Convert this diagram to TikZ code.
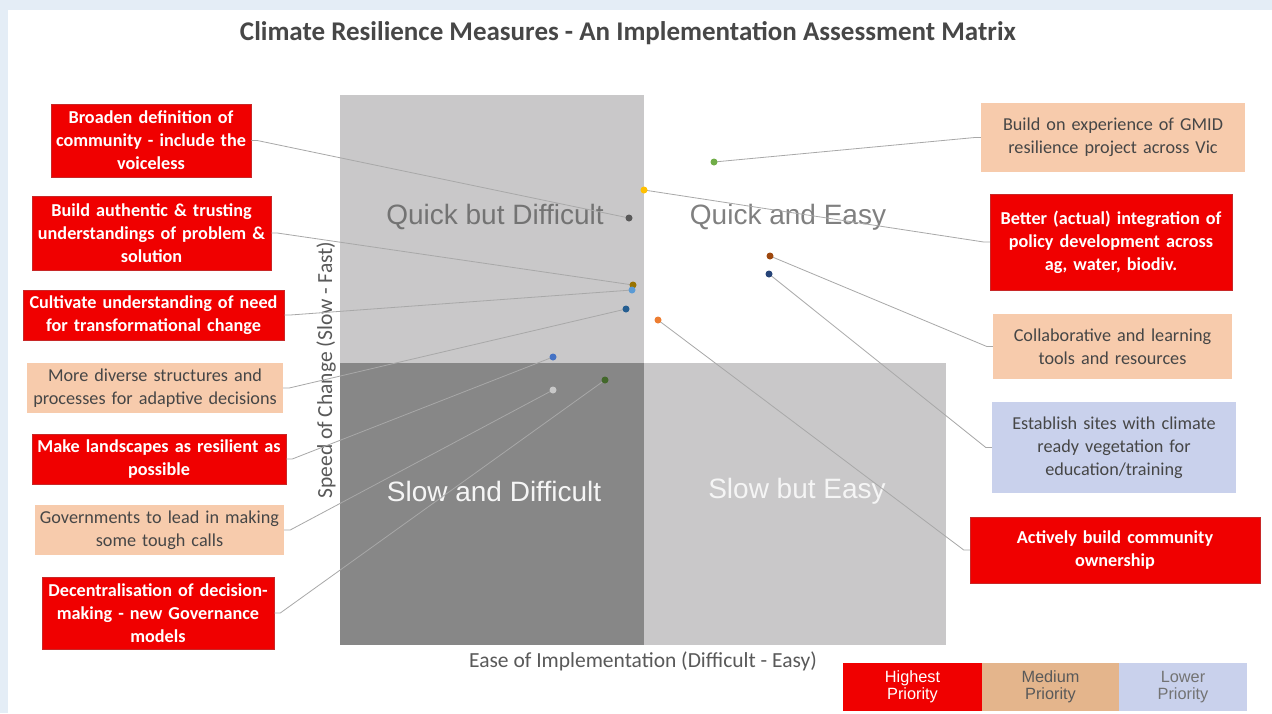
\documentclass[tikz,border=0pt]{standalone}
\usepackage{fontspec}
\setmainfont{Carlito}
\newfontfamily\arialf{Liberation Sans}
\definecolor{hired}{RGB}{240,0,0}
\definecolor{hiredline}{RGB}{200,40,40}
\definecolor{peach}{RGB}{247,203,172}
\definecolor{lowblue}{RGB}{201,209,236}
\definecolor{medleg}{RGB}{228,181,140}
\definecolor{lightq}{RGB}{201,200,201}
\definecolor{darkq}{RGB}{135,135,135}
\definecolor{bgblue}{RGB}{228,237,246}
\definecolor{leader}{RGB}{168,168,168}
\definecolor{txtgray}{RGB}{70,70,70}
\begin{document}
\begin{tikzpicture}[x=1pt,y=-1pt,
  boxbase/.style={rectangle, inner sep=0pt, align=center, font=\fontsize{18.2}{23}\selectfont},
  hibox/.style={boxbase, fill=hired, draw=hiredline, line width=0.5pt, text=white, font=\bfseries\fontsize{18.2}{23}\selectfont},
  medbox/.style={boxbase, fill=peach, text=txtgray},
  lowbox/.style={boxbase, fill=lowblue, text=txtgray},
  dot/.style={circle, inner sep=0pt, minimum size=7pt},
  leadline/.style={draw=leader, line width=0.8pt},
  quadtxt/.style={font=\arialf\fontsize{28}{32}\selectfont},
  legtxt/.style={rectangle, inner sep=0pt, align=center, font=\arialf\fontsize{16.3}{17.5}\selectfont},
  axislbl/.style={font=\fontsize{21.5}{24}\selectfont, text=black!65}
]
\useasboundingbox (0,0) rectangle (1272,713);
% background
\fill[bgblue] (0,0) rectangle (1272,713);
\fill[white] (8,10) rectangle (1272,713);

% title
\node[font=\bfseries\fontsize{27}{30}\selectfont, text=black!72] (title) at (628,33) {Climate Resilience Measures - An Implementation Assessment Matrix};

% quadrants
\fill[lightq] (340,95) rectangle (644,363);
\fill[darkq] (340,363) rectangle (644,645);
\fill[lightq] (644,363) rectangle (946,645);

\node[quadtxt, text=black!55] (qd) at (495,217) {Quick but Difficult};
\node[quadtxt, text=black!50] (qe) at (788,217) {Quick and Easy};
\node[quadtxt, text=black!4] (sd) at (494,491) {Slow and Difficult};
\node[quadtxt, text=black!4] (se) at (797,491) {Slow but Easy};

% axis labels
\node[axislbl, rotate=90] (ylab) at (326,370) {Speed of Change (Slow - Fast)};
\node[axislbl] (xlab) at (643,661) {Ease of Implementation (Difficult - Easy)};

% left boxes
\node[hibox, minimum width=200pt, minimum height=73pt, text width=197pt] (L1) at (151,140.5) {Broaden definition of\\community - include the\\voiceless};
\node[hibox, minimum width=239pt, minimum height=74pt, text width=236pt] (L2) at (151.5,233) {Build authentic \& trusting\\understandings of problem \&\\solution};
\node[hibox, minimum width=261pt, minimum height=50pt, text width=258pt] (L3) at (153.5,315) {Cultivate understanding of need\\for transformational change};
\node[medbox, minimum width=256pt, minimum height=50pt, text width=253pt] (L4) at (155,388) {More diverse structures and\\processes for adaptive decisions};
\node[hibox, minimum width=254pt, minimum height=50pt, text width=251pt] (L5) at (159,459) {Make landscapes as resilient as\\possible};
\node[medbox, minimum width=249pt, minimum height=50pt, text width=246pt] (L6) at (159.5,530) {Governments to lead in making\\some tough calls};
\node[hibox, minimum width=232pt, minimum height=72pt, text width=229pt] (L7) at (158,613) {Decentralisation of decision-\\making - new Governance\\models};

% right boxes
\node[medbox, minimum width=264pt, minimum height=69pt, text width=261pt] (R1) at (1113,137.5) {Build on experience of GMID\\resilience project across Vic};
\node[hibox, minimum width=242pt, minimum height=96pt, text width=239pt] (R2) at (1111,242) {Better (actual) integration of\\policy development across\\ag, water, biodiv.};
\node[medbox, minimum width=239pt, minimum height=65pt, text width=236pt] (R3) at (1112.5,346.5) {Collaborative and learning\\tools and resources};
\node[lowbox, minimum width=244pt, minimum height=91pt, text width=241pt] (R4) at (1114,447.5) {Establish sites with climate\\ready vegetation for\\education/training};
\node[hibox, minimum width=290pt, minimum height=66pt, text width=287pt] (R5) at (1115,550) {Actively build community\\ownership};

% dots (coordinates)
\coordinate (cgreen) at (714,162);
\coordinate (cyellow) at (644,190);
\coordinate (cgray) at (629,218);
\coordinate (colive) at (633,285);
\coordinate (clblue) at (632,290);
\coordinate (cdblue) at (626,309);
\coordinate (corange) at (658,320);
\coordinate (cblue) at (553,357);
\coordinate (clgray) at (553,390);
\coordinate (cdgreen) at (605,380);
\coordinate (cbrown) at (770,256);
\coordinate (cnavy) at (769,274);

% leader lines
\draw[leadline] (L1.east) -- ++(6,0) -- (cgray);
\draw[leadline] (L2.east) -- ++(6,0) -- (colive);
\draw[leadline] (L3.east) -- ++(6,0) -- (clblue);
\draw[leadline] (L4.east) -- ++(6,0) -- (cdblue);
\draw[leadline] (L5.east) -- ++(6,0) -- (cblue);
\draw[leadline] (L6.east) -- ++(6,0) -- (clgray);
\draw[leadline] (L7.east) -- ++(6,0) -- (cdgreen);
\draw[leadline] (R1.west) -- ++(-6,0) -- (cgreen);
\draw[leadline] (R2.west) -- ++(-6,0) -- (cyellow);
\draw[leadline] (R3.west) -- ++(-6,0) -- (cbrown);
\draw[leadline] (R4.west) -- ++(-6,0) -- (cnavy);
\draw[leadline] (R5.west) -- ++(-6,0) -- (corange);

% dots
\node[dot, fill={rgb,255:red,112;green,173;blue,71}] (dgreen) at (cgreen) {};
\node[dot, fill={rgb,255:red,255;green,192;blue,0}] (dyellow) at (cyellow) {};
\node[dot, fill={rgb,255:red,89;green,89;blue,89}] (dgray) at (cgray) {};
\node[dot, fill={rgb,255:red,153;green,115;blue,0}] (dolive) at (colive) {};
\node[dot, fill={rgb,255:red,91;green,155;blue,213}] (dlblue) at (clblue) {};
\node[dot, fill={rgb,255:red,37;green,94;blue,145}] (ddblue) at (cdblue) {};
\node[dot, fill={rgb,255:red,237;green,125;blue,49}] (dorange) at (corange) {};
\node[dot, fill={rgb,255:red,68;green,114;blue,196}] (dblue) at (cblue) {};
\node[dot, fill={rgb,255:red,200;green,200;blue,200}] (dlgray) at (clgray) {};
\node[dot, fill={rgb,255:red,67;green,104;blue,43}] (ddgreen) at (cdgreen) {};
\node[dot, fill={rgb,255:red,158;green,72;blue,14}] (dbrown) at (cbrown) {};
\node[dot, fill={rgb,255:red,38;green,68;blue,120}] (dnavy) at (cnavy) {};

% legend
\node[legtxt, fill=hired, text=white, minimum width=139pt, minimum height=48pt] (G1) at (912.5,687) {Highest\\Priority};
\node[legtxt, fill=medleg, text=black!65, minimum width=137pt, minimum height=48pt] (G2) at (1050.5,687) {Medium\\Priority};
\node[legtxt, fill=lowblue, text=black!55, minimum width=128pt, minimum height=48pt] (G3) at (1183,687) {Lower\\Priority};
\end{tikzpicture}
\end{document}
